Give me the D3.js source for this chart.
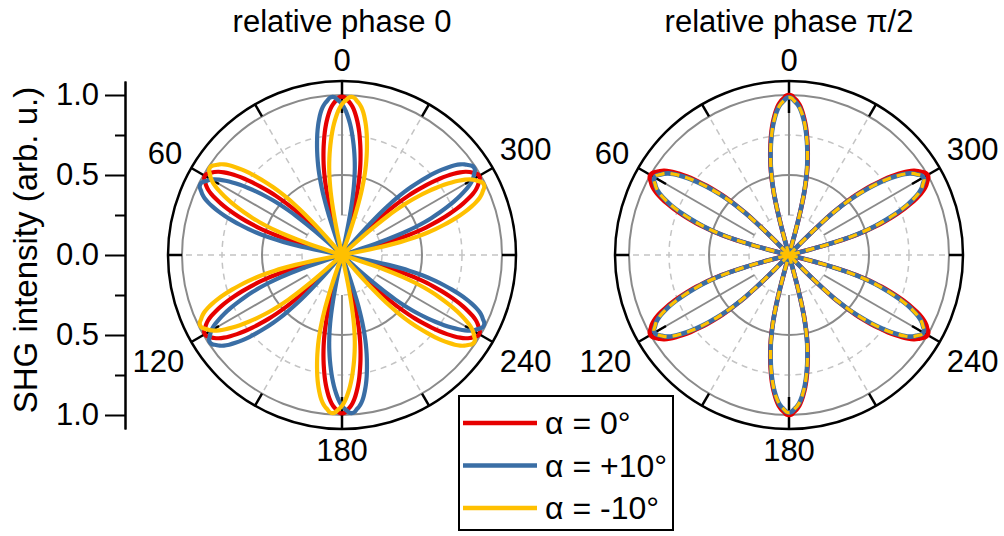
<!DOCTYPE html>
<html>
<head>
<meta charset="utf-8">
<script src="https://cdn.jsdelivr.net/npm/d3@7"></script>
<style>
  body { margin: 0; background: #fff; }
  text { font-family: "Liberation Sans", Arial, sans-serif; fill: #000; }
</style>
</head>
<body>
<svg id="chart" width="1004" height="536"></svg>
<script>
// Angular tick labels, degrees counter-clockwise from the top
const angleLabels = [0, 60, 120, 180, 240, 300];
// Intensity axis ticks (mirrored about the centre)
const radialTicks = [-1, -0.5, 0, 0.5, 1];
const radialMinorTicks = [-0.75, -0.25, 0.25, 0.75];
// Polar grid rings (normalised intensity)
const ringsSolid = [0.5, 1.0];
const ringsDashed = [0.25, 0.75];

// Lobe profile: angular offset from the lobe axis (deg) and normalised intensity
const lobeOffset = [0, 1, 2, 3, 4, 5, 6, 7, 8, 9, 10, 11, 11.8, 12.6, 13.3, 13.9, 14.5, 15, 15.4, 15.8];
const lobeValue  = [1, 0.995, 0.978, 0.962, 0.94, 0.91, 0.872, 0.83, 0.782, 0.728, 0.672, 0.612, 0.56, 0.5, 0.44, 0.38, 0.3, 0.22, 0.13, 0];
// Lobe axes (deg)
const lobeAxes = [0, 60, 120, 180, 240, 300];

// Series
const seriesNames = ["α = 0°", "α = +10°", "α = -10°"];
const seriesColors = ["#e60000", "#3a6ea5", "#ffc000"];

// Relative phase 0: lobe rotation (deg) and peak intensity of each lobe
const phase0Rotation = [0, 3.5, -3.5];
const phase0Peaks = [
  [0.99, 0.99, 0.99, 0.99, 0.99, 0.99],
  [0.99, 0.99, 0.99, 0.99, 0.99, 0.99],
  [0.99, 0.99, 0.99, 0.99, 0.99, 0.99]
];
// Relative phase pi/2
const phasePiRotation = [0, 0, 0];
const phasePiPeaks = [
  [1.00, 1.00, 1.00, 1.00, 1.00, 1.00],
  [0.985, 0.97, 0.97, 0.985, 0.97, 0.97],
  [0.985, 0.97, 0.97, 0.985, 0.97, 0.97]
];

const svg = d3.select("#chart");
const R1 = 160;                 // radius of intensity 1.0
const rMax = 1.0875;            // outer frame in intensity units
const rScale = d3.scaleLinear().domain([0, 1]).range([0, R1]);
const aScale = d3.scaleLinear().domain([0, 360]).range([0, -2 * Math.PI]);
const fontSize = 31;

function polarXY(deg, v) {
  const a = aScale(deg);
  const r = rScale(v);
  return [r * Math.sin(a), -r * Math.cos(a)];
}

function lobePoints(axis, rot, peak) {
  const pts = [];
  for (let i = lobeOffset.length - 1; i >= 0; i--) pts.push({a: axis + rot + lobeOffset[i], v: peak * lobeValue[i]});
  for (let i = 1; i < lobeOffset.length; i++) pts.push({a: axis + rot - lobeOffset[i], v: peak * lobeValue[i]});
  return pts;
}

const lobeLine = d3.lineRadial()
  .angle(d => aScale(d.a))
  .radius(d => rScale(d.v))
  .curve(d3.curveCatmullRom.alpha(0.5));

function drawPolar(cx, cy, title, rotation, peaks, styles) {
  const g = svg.append("g").attr("transform", `translate(${cx},${cy})`);

  // grid rings
  g.selectAll(".ringD").data(ringsDashed).join("circle")
    .attr("r", d => rScale(d)).attr("fill", "none")
    .attr("stroke", "#c4c4c4").attr("stroke-width", 1.5).attr("stroke-dasharray", "6,5");
  g.selectAll(".ringS").data(ringsSolid).join("circle")
    .attr("r", d => rScale(d)).attr("fill", "none")
    .attr("stroke", "#8a8a8a").attr("stroke-width", 2);

  // spokes every 30 deg
  const spokes = d3.range(0, 360, 30);
  g.selectAll(".spoke").data(spokes).join("line")
    .attr("x1", d => polarXY(d, 0.25)[0]).attr("y1", d => polarXY(d, 0.25)[1])
    .attr("x2", d => polarXY(d, 1)[0]).attr("y2", d => polarXY(d, 1)[1])
    .attr("stroke", d => d % 60 === 0 ? "#8a8a8a" : "#c4c4c4")
    .attr("stroke-width", d => d % 60 === 0 ? 2 : 1.5)
    .attr("stroke-dasharray", d => d % 60 === 0 ? null : "6,5");

  // frame ticks
  g.selectAll(".tick").data(spokes).join("line")
    .attr("x1", d => polarXY(d, rMax)[0]).attr("y1", d => polarXY(d, rMax)[1])
    .attr("x2", d => polarXY(d, d % 60 === 0 ? 0.8875 : 1.0)[0])
    .attr("y2", d => polarXY(d, d % 60 === 0 ? 0.8875 : 1.0)[1])
    .attr("stroke", "#000").attr("stroke-width", 2.5);

  // outer frame
  g.append("circle").attr("r", rScale(rMax)).attr("fill", "none")
    .attr("stroke", "#000").attr("stroke-width", 2.5);

  // curves
  styles.forEach((st, si) => {
    const sg = g.append("g");
    lobeAxes.forEach((ax, li) => {
      sg.append("path")
        .attr("d", lobeLine(lobePoints(ax, rotation[si], peaks[si][li])))
        .attr("fill", "none")
        .attr("stroke", seriesColors[si])
        .attr("stroke-width", st.width)
        .attr("stroke-dasharray", st.dash)
        .attr("stroke-linejoin", "round");
    });
  });

  // angle labels, placed so the label box clears the frame
  const gap = 184;
  angleLabels.forEach(deg => {
    const t = g.append("text").text(deg).attr("font-size", fontSize).attr("text-anchor", "middle");
    const w = t.node().getComputedTextLength();
    const h = fontSize * 0.716;
    const a = aScale(deg);
    const sx = Math.sin(a), cyv = -Math.cos(a);
    const rr = gap + (w / 2) * Math.abs(sx) + (h / 2) * Math.abs(cyv);
    t.attr("x", rr * sx).attr("y", rr * cyv + h / 2);
  });

  // title
  svg.append("text").attr("x", cx).attr("y", 32).attr("text-anchor", "middle")
    .attr("font-size", fontSize).text(title);
}

drawPolar(342, 255, "relative phase 0", phase0Rotation, phase0Peaks, [
  {width: 4.2, dash: null}, {width: 4.2, dash: null}, {width: 4.2, dash: null}
]);
drawPolar(789, 255, "relative phase π/2", phasePiRotation, phasePiPeaks, [
  {width: 4.6, dash: null}, {width: 4.6, dash: null}, {width: 3.2, dash: "9,6"}
]);

// mirrored intensity axis
const yScale = d3.scaleLinear().domain([-rMax, rMax]).range([255 + R1 * rMax, 255 - R1 * rMax]);
const yAxis = d3.axisLeft(yScale).tickValues(radialTicks)
  .tickFormat(d => Math.abs(d).toFixed(1)).tickSize(20).tickSizeOuter(0).tickPadding(6);
const yMinor = d3.axisLeft(yScale).tickValues(radialMinorTicks)
  .tickFormat("").tickSize(10).tickSizeOuter(0);
const ax = svg.append("g").attr("transform", "translate(125,0)").call(yAxis);
const axm = svg.append("g").attr("transform", "translate(125,0)").call(yMinor);
[ax, axm].forEach(a => {
  a.select(".domain").attr("stroke", "#000").attr("stroke-width", 2);
  a.selectAll(".tick line").attr("stroke", "#000").attr("stroke-width", 2);
});
ax.selectAll(".tick text").attr("font-size", fontSize)
  .attr("font-family", '"Liberation Sans", Arial, sans-serif').attr("fill", "#000");

svg.append("text").attr("transform", "translate(37,250) rotate(-90)")
  .attr("text-anchor", "middle").attr("font-size", 33)
  .text("SHG intensity (arb. u.)");

// legend
const lg = svg.append("g");
lg.append("rect").attr("x", 459).attr("y", 396).attr("width", 214).attr("height", 134)
  .attr("fill", "#fff").attr("stroke", "#000").attr("stroke-width", 2);
const legendY = d3.scalePoint().domain(seriesNames).range([423, 508]);
seriesNames.forEach((name, i) => {
  lg.append("line").attr("x1", 463).attr("x2", 537)
    .attr("y1", legendY(name)).attr("y2", legendY(name))
    .attr("stroke", seriesColors[i]).attr("stroke-width", 4.5);
  lg.append("text").attr("x", 545).attr("y", legendY(name) + 11)
    .attr("font-size", 32).text(name);
});
</script>
</body>
</html>
